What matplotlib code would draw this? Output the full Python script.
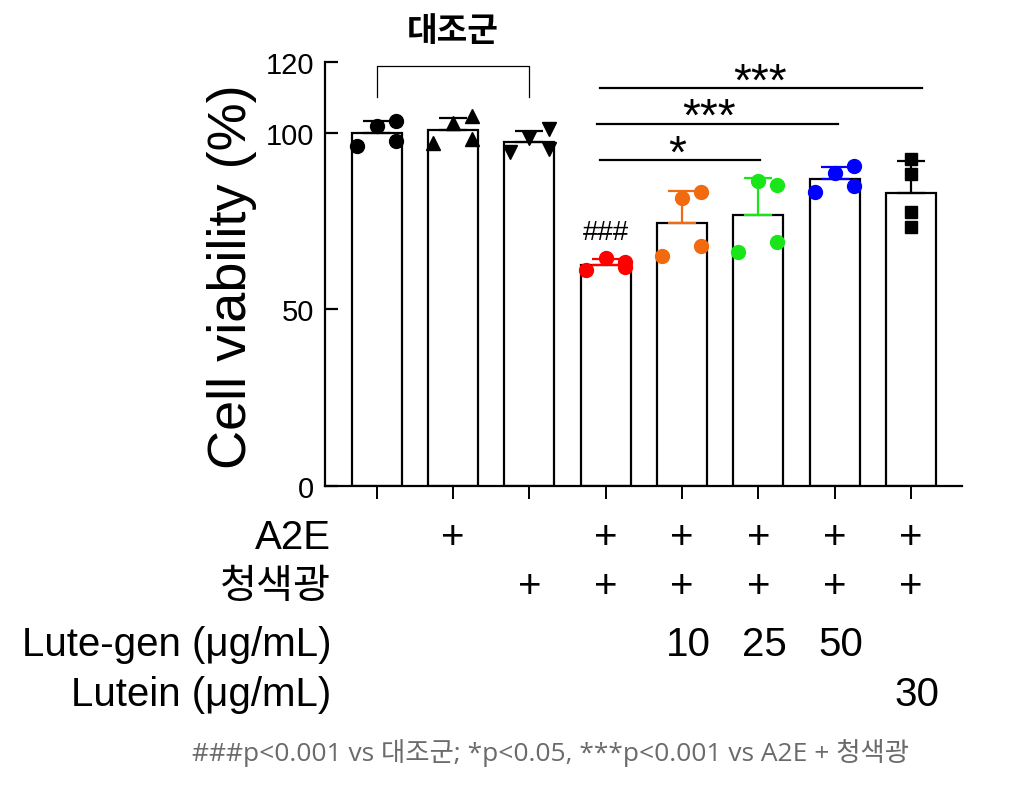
import matplotlib
matplotlib.use("Agg")
import matplotlib.pyplot as plt
import numpy as np
from matplotlib.transforms import blended_transform_factory

# ---- data ----
groups = ["Ctrl", "A2E", "Blue", "A2E+Blue", "LG10", "LG25", "LG50", "Lutein30"]
g1 = [96.3, 101.9, 103.4, 97.7]
g2 = [97.0, 102.7, 104.6, 98.2]
g3 = [94.4, 98.6, 101.0, 95.4]
g4 = [61.0, 64.4, 61.9, 63.3]
g5 = [65.2, 81.5, 83.1, 67.8]
g6 = [66.3, 86.2, 85.3, 69.0]
g7 = [83.1, 88.6, 90.5, 84.8]
g8 = [92.5, 88.3, 77.5, 73.3]
points = [g1, g2, g3, g4, g5, g6, g7, g8]
point_offsets = [-0.26, 0.0, 0.25, 0.25]  # x jitter of the 4 replicates
colors = ["black", "black", "black", "#FF0000", "#F26A10", "#19E619", "#0000FF", "black"]
markers = ["o", "^", "v", "o", "o", "o", "o", "s"]
errcolors = ["black", "black", "black", "#FF0000", "#F26A10", "#19E619", "#0000FF", "black"]

yticks = [0, 50, 100, 120]
row_labels = ["A2E", "청색광", "Lute-gen (\u03bcg/mL)", "Lutein (\u03bcg/mL)"]
row_a2e = ["", "+", "", "+", "+", "+", "+", "+"]
row_blue = ["", "", "+", "+", "+", "+", "+", "+"]
row_lg = ["", "", "", "", "10", "25", "50", ""]
row_lut = ["", "", "", "", "", "", "", "30"]

means = [np.mean(p) for p in points]
sds = [np.std(p, ddof=1) for p in points]

W, H = 1025, 812
fig = plt.figure(figsize=(W / 100, H / 100), dpi=100)
ax = fig.add_axes([325 / W, 1 - 487 / H, (962 - 325) / W, (487 - 63) / H])

x = np.arange(len(groups))
ax.bar(x, means, width=0.655, color="white", edgecolor="black", linewidth=1.6, zorder=2)
for i in range(len(groups)):
    ax.errorbar(x[i], means[i], yerr=[[0], [sds[i]]], fmt="none", ecolor=errcolors[i],
                elinewidth=1.6, capsize=10, capthick=1.6, zorder=3)
    xs = x[i] + np.array(point_offsets)
    ms = 8.5 if markers[i] == "s" else 10
    ax.plot(xs if markers[i] != "s" else np.full(4, x[i]), points[i], linestyle="none",
            marker=markers[i], color=colors[i], markersize=ms, zorder=4, clip_on=False)

ax.set_xlim(-0.68, 7.67)
ax.set_ylim(0, 120)
ax.set_yticks(yticks)
ax.set_xticks(x)
ax.set_xticklabels([])
for s in ["top", "right"]:
    ax.spines[s].set_visible(False)
for s in ["left", "bottom"]:
    ax.spines[s].set_linewidth(1.6)
ax.tick_params(axis="y", length=9, width=1.6, labelsize=21, pad=8, direction="in")
ax.tick_params(axis="x", length=9, width=1.4, direction="out")
for lab in ax.get_yticklabels():
    lab.set_fontfamily("Liberation Sans")
fig.text(232 / W, 1 - 277 / H, "Cell viability (%)", rotation=90, ha="center", va="center",
         fontsize=39, fontfamily="Liberation Sans")

# bracket for control group
ax.plot([0, 0, 2, 2], [110.2, 119, 119, 110.2], color="black", lw=0.9, clip_on=False)
fig.text(453 / W, 1 - 32 / H, "대조군", ha="center", va="center", fontsize=24,
         fontweight="bold", fontfamily="Noto Sans CJK KR")

# significance lines
sig_lines = [(2.93, 7.14, 112.6, "***", 5.02, 96), (2.88, 6.04, 102.5, "***", 4.35, 131),
             (2.93, 5.02, 92.3, "*", 3.93, 168)]
tr = blended_transform_factory(ax.transData, fig.transFigure)
for x0, x1, yv, txt, xt, base in sig_lines:
    ax.plot([x0, x1], [yv, yv], color="black", lw=1.6, clip_on=False)
    ax.text(xt, 1 - base / H, txt, transform=tr, ha="center", va="baseline", fontsize=33,
            fontfamily="Liberation Sans")
ax.text(3.0, 72, "###", ha="center", va="center", fontsize=20, fontfamily="Liberation Sans")

# treatment table
fam = ["Liberation Sans", "Noto Sans CJK KR"]
baselines = [549, 598, 656, 706]
rows = [row_a2e, row_blue, row_lg, row_lut]
for r, (lab, row, b) in enumerate(zip(row_labels, rows, baselines)):
    fig.text(331 / W, 1 - b / H, lab, ha="right", va="baseline", fontsize=29, fontfamily=fam)
    for i, t in enumerate(row):
        if t:
            dx = 0.0 if t == "+" else 0.08
            ax.text(x[i] + dx, 1 - b / H, t, transform=tr, ha="center", va="baseline",
                    fontsize=29, fontfamily=fam, clip_on=False)

fig.text(550 / W, 1 - 753 / H, "###p<0.001 vs 대조군; *p<0.05, ***p<0.001 vs A2E + 청색광",
         ha="center", va="center", fontsize=19, color="#6b6b6b",
         fontfamily=["Open Sans", "Noto Sans CJK KR"])

fig.savefig("out.png", dpi=100)
